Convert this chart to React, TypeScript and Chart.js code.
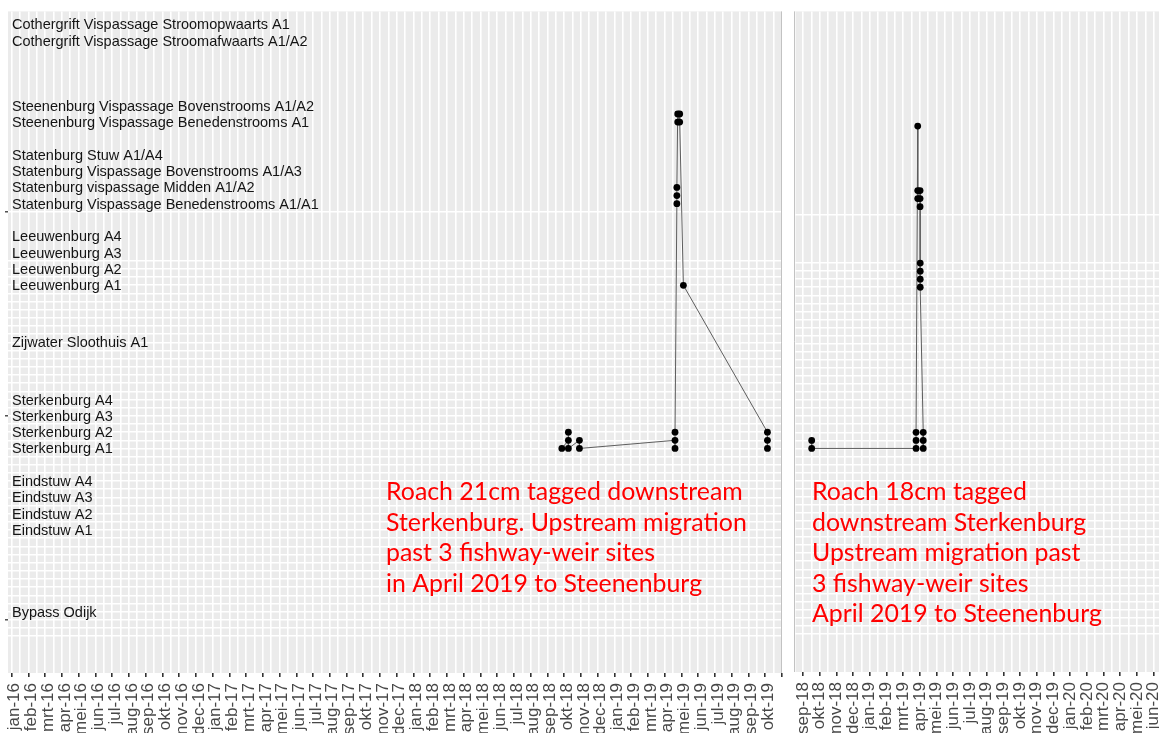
import React, { useEffect, useRef } from 'react';
import { Chart, registerables } from 'chart.js';

Chart.register(...registerables);

// Month index on the x axis: 0 = jan-16, 12 = jan-17, ...
const MONTH_NAMES = ['jan', 'feb', 'mrt', 'apr', 'mei', 'jun', 'jul', 'aug', 'sep', 'okt', 'nov', 'dec'];
const monthLabel = (m: number) => `${MONTH_NAMES[m % 12]}-${16 + Math.floor(m / 12)}`;

// Receiver stations and their position on the river axis
const stationNames = [
  'Cothergrift Vispassage Stroomopwaarts A1',
  'Cothergrift Vispassage Stroomafwaarts A1/A2',
  'Steenenburg Vispassage Bovenstrooms A1/A2',
  'Steenenburg Vispassage Benedenstrooms A1',
  'Statenburg Stuw A1/A4',
  'Statenburg Vispassage Bovenstrooms A1/A3',
  'Statenburg vispassage Midden A1/A2',
  'Statenburg Vispassage Benedenstrooms A1/A1',
  'Leeuwenburg A4',
  'Leeuwenburg A3',
  'Leeuwenburg A2',
  'Leeuwenburg A1',
  'Zijwater Sloothuis A1',
  'Sterkenburg A4',
  'Sterkenburg A3',
  'Sterkenburg A2',
  'Sterkenburg A1',
  'Eindstuw A4',
  'Eindstuw A3',
  'Eindstuw A2',
  'Eindstuw A1',
  'Bypass Odijk',
];
const stationLevels = [72, 70, 62, 60, 56, 54, 52, 50, 46, 44, 42, 40, 33, 26, 24, 22, 20, 16, 14, 12, 10, 0];

// Roach 21cm: detections in time order (month index, receiver level)
const roach21Months = [32.86, 33.25, 33.25, 33.25, 33.91, 33.91, 39.62, 39.62, 39.62, 39.73, 39.73, 39.73, 39.78, 39.78, 39.9, 39.9, 40.12, 45.14, 45.14, 45.14];
const roach21Levels = [20, 21, 22, 20, 21, 20, 21, 20, 22, 50, 51, 52, 61, 60, 61, 60, 40, 22, 21, 20];

// Roach 18cm: detections in time order (month index, receiver level)
const roach18Months = [32.52, 32.52, 38.77, 38.77, 38.77, 38.87, 38.87, 38.87, 39.01, 39.01, 39.01, 39.02, 39.02, 39.02, 39.02, 39.2, 39.2, 39.2];
const roach18Levels = [21, 20, 20, 21, 22, 60, 52, 51, 52, 51, 50, 43, 42, 41, 40, 22, 21, 20];

// Annotation texts
const roach21Note = ['Roach 21cm tagged downstream', 'Sterkenburg. Upstream migration', 'past 3 fishway-weir sites', 'in April 2019 to Steenenburg'];
const roach18Note = ['Roach 18cm tagged', 'downstream Sterkenburg', 'Upstream migration past', '3 fishway-weir sites', 'April 2019 to Steenenburg'];

// Axis ranges of the two panels
const leftRange = { xMin: -0.221, xMax: 46.01, yMin: -7.52, yMax: 73.57, lastLabel: 45 };
const rightRange = { xMin: 31.46, xMax: 53.38, yMin: -7.74, yMax: 74.23, lastLabel: 53 };

// Horizontal grid levels and the three axis ticks left of the panel
const yAxisMarks = [-1, 24, 49];
const gridLevels: number[] = [49];
for (let l = 43; l >= -3; l--) gridLevels.push(l);

const LABEL_FONT = '"Liberation Sans", Arial, sans-serif';
const NOTE_FONT = 'Lato, "Open Sans", sans-serif';
const SIDE_PAD = 40;

type PanelCfg = {
  months: number[];
  levels: number[];
  range: typeof leftRange;
  yTickLength: number;
  labelShift: number;
  showStations: boolean;
  note: string[];
  noteX: number;
  borderSide: 'left' | 'right';
};

function halfMonthTicks(min: number, max: number) {
  const out: number[] = [];
  for (let v = Math.ceil(min * 2) / 2; v <= max + 1e-9; v += 0.5) out.push(v);
  return out;
}

function buildPanel(canvas: HTMLCanvasElement, cfg: PanelCfg) {
  const xTicks = halfMonthTicks(cfg.range.xMin, cfg.range.xMax);

  const decor = {
    id: 'panelDecor',
    beforeDraw(chart: any) {
      const { ctx, chartArea: a } = chart;
      ctx.save();
      ctx.fillStyle = '#ebebeb';
      ctx.fillRect(a.left, a.top, a.right - a.left, a.bottom - a.top);
      ctx.restore();
    },
    afterDatasetsDraw(chart: any) {
      const { ctx, chartArea: a, scales } = chart;
      ctx.save();
      // panel edge towards the neighbouring panel
      ctx.strokeStyle = '#c2c2c2';
      ctx.lineWidth = 1;
      ctx.beginPath();
      const ex = cfg.borderSide === 'right' ? a.right - 0.5 : a.left + 0.5;
      ctx.moveTo(ex, a.top);
      ctx.lineTo(ex, a.bottom);
      ctx.stroke();

      // receiver station names
      if (cfg.showStations) {
        ctx.font = `14.5px ${LABEL_FONT}`;
        ctx.fillStyle = '#141414';
        ctx.textBaseline = 'middle';
        ctx.textAlign = 'left';
        stationNames.forEach((name, i) => {
          const y = scales.y.getPixelForValue(stationLevels[i]) + 1;
          ctx.fillText(name, a.left + 4, y);
        });
      }

      // red annotation block
      ctx.font = `100px ${NOTE_FONT}`;
      const ref = ctx.measureText(roach21Note[0]).width;
      const size = (100 * 357) / ref;
      ctx.font = `${size}px ${NOTE_FONT}`;
      ctx.fillStyle = '#ff0000';
      ctx.textBaseline = 'alphabetic';
      ctx.textAlign = 'left';
      cfg.note.forEach((line, i) => {
        ctx.fillText(line, a.left + cfg.noteX, a.top + 489 + i * 30.5);
      });
      ctx.restore();
    },
  };

  return new Chart(canvas, {
    type: 'scatter',
    data: {
      datasets: [
        {
          data: cfg.months.map((m, i) => ({ x: m, y: cfg.levels[i] })),
          showLine: true,
          borderColor: '#5e5e5e',
          borderWidth: 1,
          pointRadius: 3.4,
          pointHoverRadius: 3.4,
          pointBackgroundColor: '#000000',
          pointBorderWidth: 0,
        },
      ],
    },
    options: {
      animation: false,
      responsive: true,
      maintainAspectRatio: false,
      events: [],
      layout: { padding: { left: SIDE_PAD - cfg.yTickLength, right: SIDE_PAD, top: 0, bottom: 0 } },
      plugins: { legend: { display: false }, tooltip: { enabled: false } },
      scales: {
        x: {
          type: 'linear',
          min: cfg.range.xMin,
          max: cfg.range.xMax,
          afterBuildTicks: (axis: any) => {
            axis.ticks = xTicks.map((v) => ({ value: v }));
          },
          afterFit: (axis: any) => {
            axis.height = 70;
          },
          ticks: {
            autoSkip: false,
            minRotation: 90,
            maxRotation: 90,
            padding: 6,
            labelOffset: cfg.labelShift,
            color: '#474747',
            font: { family: LABEL_FONT, size: 17 },
            callback: (v: any) =>
              Number.isInteger(v) && v <= cfg.range.lastLabel ? monthLabel(v) : '',
          },
          grid: {
            color: '#ffffff',
            lineWidth: 1.6,
            tickLength: 4,
            tickWidth: 1.6,
            tickColor: (c: any) =>
              c.tick && Number.isInteger(c.tick.value) ? '#333333' : 'rgba(0,0,0,0)',
          },
          border: { display: false },
        },
        y: {
          type: 'linear',
          min: cfg.range.yMin,
          max: cfg.range.yMax,
          afterBuildTicks: (axis: any) => {
            axis.ticks = gridLevels.map((v) => ({ value: v }));
          },
          afterFit: (axis: any) => {
            axis.width = cfg.yTickLength;
          },
          ticks: { display: false },
          grid: {
            color: '#ffffff',
            lineWidth: 1.6,
            drawTicks: cfg.yTickLength > 0,
            tickLength: cfg.yTickLength,
            tickWidth: 1.3,
            tickColor: (c: any) =>
              c.tick && yAxisMarks.includes(c.tick.value) ? '#333333' : 'rgba(0,0,0,0)',
          },
          border: { display: false },
        },
      },
    },
    plugins: [decor],
  } as any);
}

export default function App() {
  const leftRef = useRef<HTMLCanvasElement | null>(null);
  const rightRef = useRef<HTMLCanvasElement | null>(null);

  useEffect(() => {
    if (!leftRef.current || !rightRef.current) return;
    const left = buildPanel(leftRef.current, {
      months: roach21Months,
      levels: roach21Levels,
      range: leftRange,
      yTickLength: 3,
      labelShift: 3,
      showStations: true,
      note: roach21Note,
      noteX: 378,
      borderSide: 'right',
    });
    const right = buildPanel(rightRef.current, {
      months: roach18Months,
      levels: roach18Levels,
      range: rightRange,
      yTickLength: 0,
      labelShift: 0,
      showStations: false,
      note: roach18Note,
      noteX: 18,
      borderSide: 'left',
    });
    return () => {
      left.destroy();
      right.destroy();
    };
  }, []);

  // Left panel plot area: x 8..782, y 8..673; right panel: x 794..1160, y 8..672
  return (
    <div
      style={{
        position: 'fixed',
        left: 0,
        top: 0,
        width: 1159,
        height: 733,
        overflow: 'hidden',
        background: '#ffffff',
      }}
    >
      <div style={{ position: 'absolute', left: 8 - SIDE_PAD, top: 8, width: 774 + 2 * SIDE_PAD, height: 735 }}>
        <canvas ref={leftRef} />
      </div>
      <div style={{ position: 'absolute', left: 794 - SIDE_PAD, top: 8, width: 366 + 2 * SIDE_PAD, height: 734 }}>
        <canvas ref={rightRef} />
      </div>
    </div>
  );
}
